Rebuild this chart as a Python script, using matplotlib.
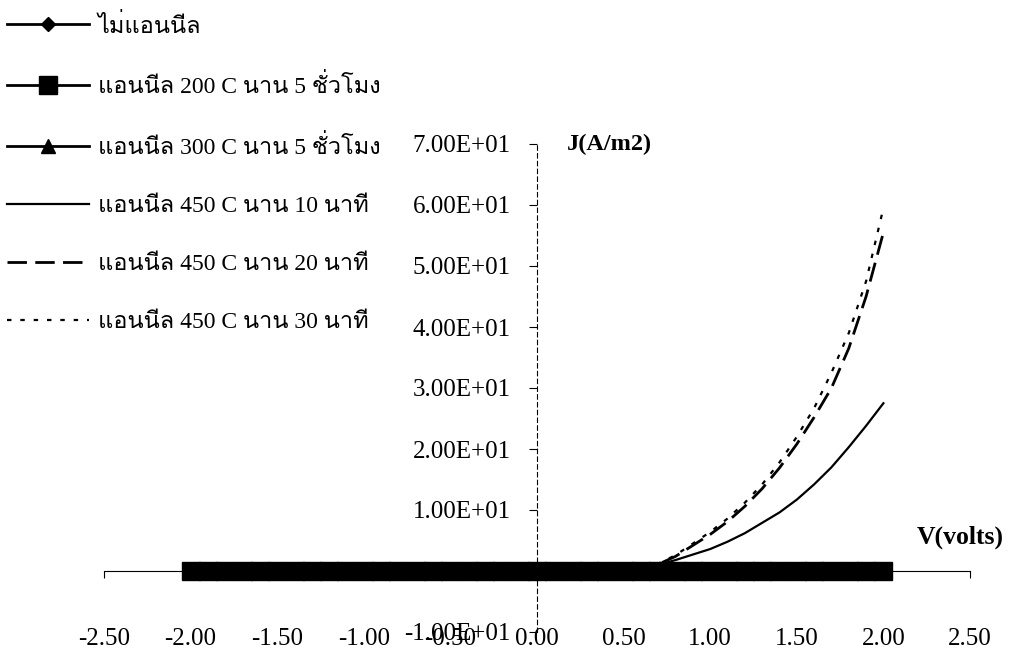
import matplotlib
matplotlib.use("Agg")
import matplotlib.pyplot as plt
from matplotlib import font_manager
from matplotlib.ft2font import FT2Font
from matplotlib.ticker import FuncFormatter

# ---- find a font that has Thai glyphs ----
thai_family = None
for f in font_manager.fontManager.ttflist:
    try:
        if 0x0E41 in FT2Font(f.fname).get_charmap():
            thai_family = f.name
            break
    except Exception:
        pass

fam = ["Liberation Serif"] + ([thai_family] if thai_family else []) + ["DejaVu Sans"]
plt.rcParams["font.family"] = fam

# ---- data ----
voltage = [-2.0, -1.9, -1.8, -1.7, -1.6, -1.5, -1.4, -1.3, -1.2, -1.1,
           -1.0, -0.9, -0.8, -0.7, -0.6, -0.5, -0.4, -0.3, -0.2, -0.1,
           0.0, 0.1, 0.2, 0.3, 0.4, 0.5, 0.6, 0.7, 0.8, 0.9,
           1.0, 1.1, 1.2, 1.3, 1.4, 1.5, 1.6, 1.7, 1.8, 1.9, 2.0]

j_no_anneal = [0.0, 0.0, 0.0, 0.0, 0.0, 0.0, 0.0, 0.0, 0.0, 0.0,
               0.0, 0.0, 0.0, 0.0, 0.0, 0.0, 0.0, 0.0, 0.0, 0.0,
               0.0, 0.0, 0.0, 0.0, 0.0, 0.0, 0.0, 0.0, 0.0, 0.0,
               0.0, 0.0, 0.0, 0.0, 0.0, 0.0, 0.0, 0.0, 0.0, 0.0, 0.0]
j_200c_5h = [0.0, 0.0, 0.0, 0.0, 0.0, 0.0, 0.0, 0.0, 0.0, 0.0,
             0.0, 0.0, 0.0, 0.0, 0.0, 0.0, 0.0, 0.0, 0.0, 0.0,
             0.0, 0.0, 0.0, 0.0, 0.0, 0.0, 0.0, 0.0, 0.0, 0.0,
             0.0, 0.0, 0.0, 0.0, 0.0, 0.0, 0.0, 0.0, 0.0, 0.0, 0.0]
j_300c_5h = [0.0, 0.0, 0.0, 0.0, 0.0, 0.0, 0.0, 0.0, 0.0, 0.0,
             0.0, 0.0, 0.0, 0.0, 0.0, 0.0, 0.0, 0.0, 0.0, 0.0,
             0.0, 0.0, 0.0, 0.0, 0.0, 0.0, 0.0, 0.0, 0.0, 0.0,
             0.0, 0.0, 0.0, 0.0, 0.0, 0.0, 0.0, 0.0, 0.0, 0.0, 0.0]
j_450c_10m = [0.0, 0.0, 0.0, 0.0, 0.0, 0.0, 0.0, 0.0, 0.0, 0.0,
              0.0, 0.0, 0.0, 0.0, 0.0, 0.0, 0.0, 0.0, 0.0, 0.0,
              0.0, 0.0, 0.0, 0.1, 0.2, 0.3, 0.5, 1.0, 1.8, 2.7,
              3.6, 4.8, 6.2, 7.9, 9.6, 11.7, 14.2, 17.0, 20.3, 23.8, 27.5]
j_450c_20m = [0.0, 0.0, 0.0, 0.0, 0.0, 0.0, 0.0, 0.0, 0.0, 0.0,
              0.0, 0.0, 0.0, 0.0, 0.0, 0.0, 0.0, 0.0, 0.0, 0.0,
              0.0, 0.0, 0.0, 0.1, 0.2, 0.3, 0.6, 1.1, 2.4, 4.2,
              6.0, 8.1, 10.6, 13.5, 16.9, 20.8, 25.2, 30.0, 36.5, 45.0, 55.5]
j_450c_30m = [0.0, 0.0, 0.0, 0.0, 0.0, 0.0, 0.0, 0.0, 0.0, 0.0,
              0.0, 0.0, 0.0, 0.0, 0.0, 0.0, 0.0, 0.0, 0.0, 0.0,
              0.0, 0.0, 0.0, 0.1, 0.2, 0.3, 0.6, 1.2, 2.6, 4.5,
              6.4, 8.6, 11.2, 14.2, 17.8, 22.0, 26.7, 32.5, 39.0, 47.5, 59.5]

labels = ["ไม่แอนนีล",
          "แอนนีล 200 C นาน 5 ชั่วโมง",
          "แอนนีล 300 C นาน 5 ชั่วโมง",
          "แอนนีล 450 C นาน 10 นาที",
          "แอนนีล 450 C นาน 20 นาที",
          "แอนนีล 450 C นาน 30 นาที"]

x_ticks = [-2.5, -2.0, -1.5, -1.0, -0.5, 0.0, 0.5, 1.0, 1.5, 2.0, 2.5]
y_ticks = [-10, 0, 10, 20, 30, 40, 50, 60, 70]

# ---- figure ----
fig = plt.figure(figsize=(10.15, 6.54), dpi=100)
ax = fig.add_axes([104 / 1015, 22 / 654, 866 / 1015, 488 / 654])

h1, = ax.plot(voltage, j_no_anneal, color="black", lw=2, marker="D", ms=7, zorder=3)
h2, = ax.plot(voltage, j_200c_5h, color="black", lw=2, marker="s", ms=12.5, zorder=3)
h3, = ax.plot(voltage, j_300c_5h, color="black", lw=2, marker="^", ms=10, zorder=3)
h4, = ax.plot(voltage, j_450c_10m, color="black", lw=1.6, ls="-", zorder=3)
h5, = ax.plot(voltage, j_450c_20m, color="black", lw=2.0, ls=(0, (7, 3)), zorder=3)
h6, = ax.plot(voltage, j_450c_30m, color="black", lw=1.6, ls=(0, (2, 4)), zorder=3)

ax.set_xlim(-2.5, 2.5)
ax.set_ylim(-10, 70)
ax.set_xticks(x_ticks)
ax.set_yticks(y_ticks)
ax.xaxis.set_major_formatter(FuncFormatter(lambda v, p: f"{v:.2f}"))
ax.yaxis.set_major_formatter(FuncFormatter(lambda v, p: f"{v:.2E}"))

for s in ("top", "right"):
    ax.spines[s].set_visible(False)
ax.spines["left"].set_position(("data", 0))
ax.spines["bottom"].set_position(("data", 0))
ax.spines["left"].set_linestyle((0, (4, 3)))
ax.spines["left"].set_linewidth(0.8)
ax.spines["bottom"].set_linewidth(0.8)
ax.patch.set_visible(False)

ax.tick_params(axis="x", direction="out", length=5, width=0.8, pad=36, labelsize=18)
ax.tick_params(axis="y", direction="out", length=6, width=0.8, pad=13, labelsize=18)

ax.text(0.17, 70, "J(A/m2)", ha="left", va="center", fontsize=17.5, fontweight="bold")
ax.text(2.19, 5.5, "V(volts)", ha="left", va="center", fontsize=18.5, fontweight="bold")

fig.legend([h1, h2, h3, h4, h5, h6], labels, loc="upper left",
           bbox_to_anchor=(0.0, 0.99), frameon=False, fontsize=17,
           handlelength=3.45, handletextpad=0.4, labelspacing=1.55,
           borderpad=0.3, borderaxespad=0.0, numpoints=1)

fig.savefig("out.png", dpi=100)
